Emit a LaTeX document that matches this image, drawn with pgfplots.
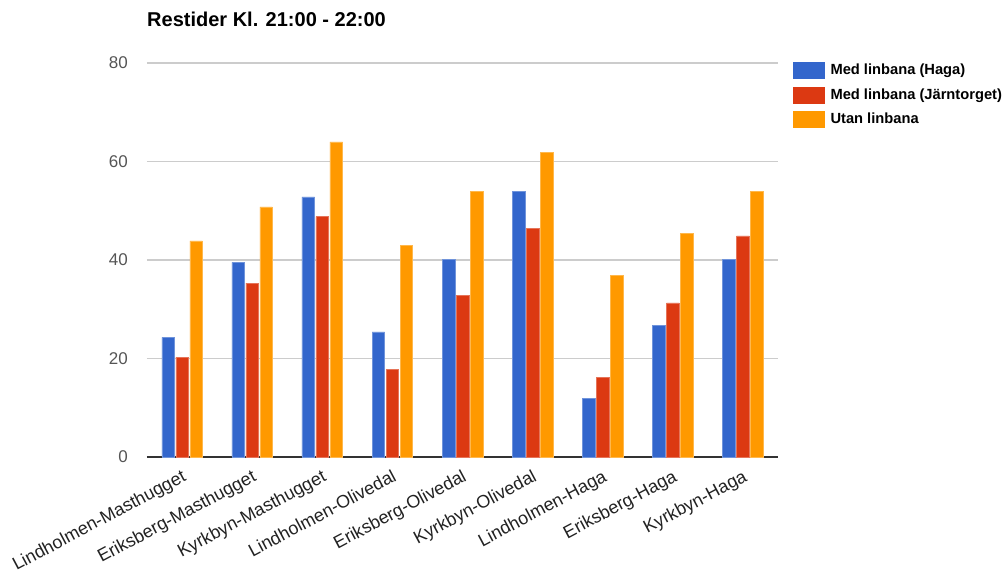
\documentclass[border=0pt]{standalone}
\usepackage{fontspec}
\setmainfont{Liberation Sans}
\usepackage{pgfplots}
\usepackage{pgfplotstable}
\pgfplotsset{compat=1.18}

\definecolor{gBlue}{HTML}{3366CC}
\definecolor{gRed}{HTML}{DC3912}
\definecolor{gOrange}{HTML}{FF9900}
\definecolor{gGrid}{HTML}{CCCCCC}
\definecolor{gAxis}{HTML}{333333}
\definecolor{gTick}{HTML}{555555}
\definecolor{gLabel}{HTML}{222222}

% Travel times (minutes), 21:00-22:00
\pgfplotstableread{
idx haga jarntorget utan
0   24.3 20.3 43.9
1   39.5 35.3 50.8
2   52.8 48.8 64.0
3   25.4 17.8 42.9
4   40.2 32.8 53.9
5   53.9 46.4 61.9
6   11.9 16.2 36.9
7   26.8 31.3 45.4
8   40.2 44.9 53.9
}\restider

\begin{document}
\begin{tikzpicture}
\useasboundingbox (-147pt,-114pt) rectangle (859pt,457pt);
\begin{axis}[
  at={(0pt,0pt)}, anchor=south west,
  scale only axis, width=631pt, height=394pt,
  ymin=0, ymax=80, xmin=-0.5, xmax=8.5,
  ytick={0,20,40,60,80},
  xtick={0,...,8},
  xticklabels={Lindholmen-Masthugget,Eriksberg-Masthugget,Kyrkbyn-Masthugget,
    Lindholmen-Olivedal,Eriksberg-Olivedal,Kyrkbyn-Olivedal,
    Lindholmen-Haga,Eriksberg-Haga,Kyrkbyn-Haga},
  ybar=1.4pt, bar width=12.6pt,
  axis lines*=left,
  y axis line style={draw=none},
  x axis line style={draw=gAxis, line width=1.1pt},
  major tick length=0pt,
  ymajorgrids,
  major grid style={draw=gGrid, line width=1.2pt},
  /pgf/number format/assume math mode=true,
  yticklabel style={font=\fontsize{17}{20}\selectfont, text=gTick,
    inner sep=0pt, anchor=east, xshift=-19pt},
  xticklabel style={font=\fontsize{18}{21}\selectfont, text=gLabel,
    inner sep=0pt, rotate=28, anchor=north east, xshift=-6.3pt, yshift=-9.7pt},
  title={Restider Kl. 21:00 - 22:00},
  title style={at={(0,1)}, anchor=base west, yshift=31pt, inner sep=0pt,
    font=\bfseries\fontsize{20}{24}\selectfont},
  legend style={at={(1,1)}, anchor=north west, xshift=15pt, yshift=1pt,
    draw=none, fill=none, inner sep=0pt, outer sep=0pt, row sep=8pt,
    column sep=4pt,
    font=\bfseries\fontsize{14.7}{17}\selectfont},
  legend cell align=left,
]
\addplot[fill=gBlue, draw=gBlue!70!white, line width=0.5pt,
  legend image code/.code={\fill[gBlue] (0pt,-8pt) rectangle (31pt,8pt);}]
  table[x=idx, y=haga] {\restider};
\addlegendentry{Med linbana (Haga)}
\addplot[fill=gRed, draw=gRed!70!white, line width=0.5pt,
  legend image code/.code={\fill[gRed] (0pt,-8pt) rectangle (31pt,8pt);}]
  table[x=idx, y=jarntorget] {\restider};
\addlegendentry{Med linbana (Järntorget)}
\addplot[fill=gOrange, draw=gOrange!70!white, line width=0.5pt,
  legend image code/.code={\fill[gOrange] (0pt,-8pt) rectangle (31pt,8pt);}]
  table[x=idx, y=utan] {\restider};
\addlegendentry{Utan linbana}
\end{axis}
\end{tikzpicture}
\end{document}
